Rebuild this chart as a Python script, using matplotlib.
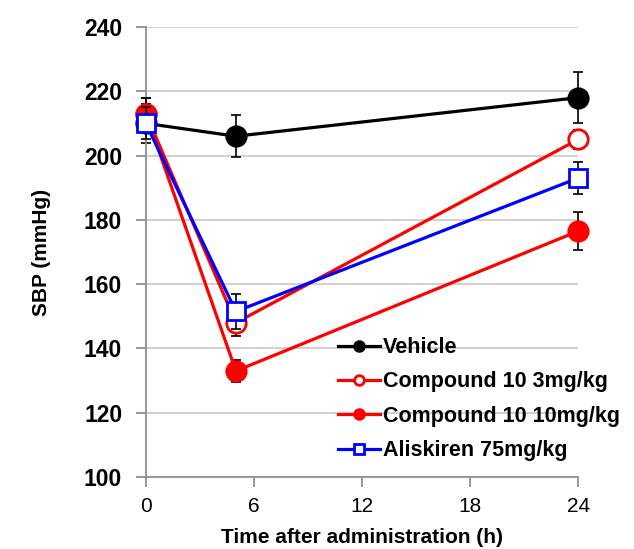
# SBP time course after administration.

import matplotlib
matplotlib.use("Agg")
import matplotlib.pyplot as plt

plt.rcParams['font.family'] = ['Liberation Sans', 'DejaVu Sans']

hours = [0, 5, 24]

vehicle = [210, 206, 218]
vehicle_err = [6, 6.5, 8]
comp3 = [213, 148, 205]
comp3_err = [5, 4, 3]
comp10 = [213, 133, 176.5]
comp10_err = [5, 3.5, 6]
aliskiren = [210, 151.5, 193]
aliskiren_err = [5, 5.5, 5]

labels = ["Vehicle", "Compound 10 3mg/kg", "Compound 10 10mg/kg", "Aliskiren 75mg/kg"]

fig = plt.figure(figsize=(6.34, 5.49), dpi=100)
ax = fig.add_axes([0.230, 0.131, 0.682, 0.820])

series = [
    (vehicle, vehicle_err, 'black', 'o', 'black'),
    (comp3, comp3_err, 'red', 'o', 'white'),
    (comp10, comp10_err, 'red', 'o', 'red'),
    (aliskiren, aliskiren_err, 'blue', 's', 'white'),
]

for i, (y, err, c, m, fc) in enumerate(series):
    ax.errorbar(hours, y, yerr=err, fmt='none', ecolor='black', elinewidth=1.2,
                capsize=3.5, capthick=1.2, zorder=2 + i, clip_on=False)
    ax.plot(hours, y, color=c, lw=2.3, marker=m, mfc=fc, mec=c, mew=2,
            ms=14 if m == 'o' else 13, label=labels[i], zorder=3 + i, clip_on=False)

ax.set_xlim(0, 24)
ax.set_ylim(100, 240)
ax.set_xticks([0, 6, 12, 18, 24])
ax.set_yticks(range(100, 241, 20))
ax.yaxis.grid(True, color='#c8c8c8', lw=1.2)
ax.set_axisbelow(True)
for s in ['top', 'right']:
    ax.spines[s].set_visible(False)
for s in ['left', 'bottom']:
    ax.spines[s].set_color('#909090')
    ax.spines[s].set_linewidth(1.3)
ax.tick_params(axis='both', colors='#909090', length=7, width=1.3, labelcolor='black')
ax.tick_params(axis='y', labelsize=16.5, pad=10)
ax.tick_params(axis='x', labelsize=15, pad=7)
for t in ax.get_yticklabels():
    t.set_fontweight('bold')

ax.set_xlabel("Time after administration (h)", fontsize=15, fontweight='bold', labelpad=9)
ax.set_ylabel("SBP (mmHg)", fontsize=15, fontweight='bold', labelpad=24)

leg = ax.legend(loc='upper left', bbox_to_anchor=(0.533, 0.386), bbox_transform=fig.transFigure,
                frameon=False, fontsize=15.5, handlelength=1.95, handletextpad=0.15,
                borderpad=0, borderaxespad=0, labelspacing=0.62, markerscale=0.5)
for t in leg.get_texts():
    t.set_fontweight('bold')

fig.savefig("out.png", dpi=100)
